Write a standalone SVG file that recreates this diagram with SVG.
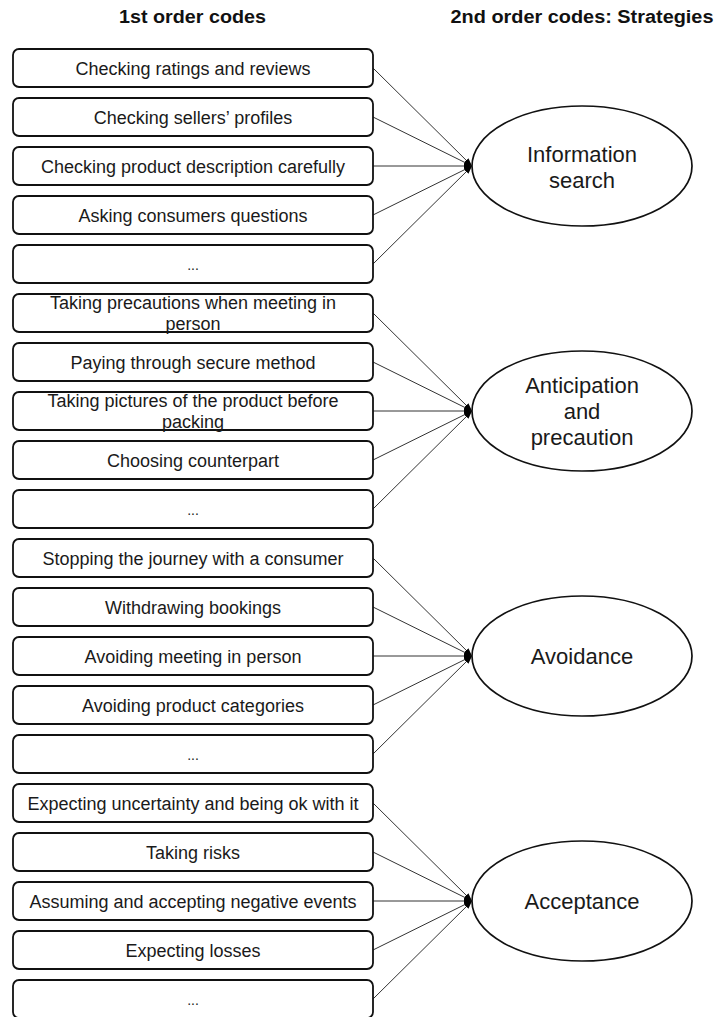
<svg xmlns="http://www.w3.org/2000/svg" width="716" height="1017" viewBox="0 0 716 1017">
<style>
.box{fill:#fff;stroke:#111;stroke-width:1.8}
.ell{fill:#fff;stroke:#111;stroke-width:1.7}
.t{font-family:"Liberation Sans",Arial,sans-serif;font-size:18px;fill:#1a1a1a;text-anchor:middle}
.dots{font-family:"Liberation Sans",Arial,sans-serif;font-size:14px;fill:#1a1a1a;text-anchor:middle}
.et{font-family:"Liberation Sans",Arial,sans-serif;font-size:22px;fill:#1a1a1a;text-anchor:middle}
.h{font-family:"Liberation Sans",Arial,sans-serif;font-size:18px;font-weight:bold;fill:#111;text-anchor:middle}
.c{stroke:#333;stroke-width:1;fill:none;marker-end:url(#ah)}
</style>
<defs>
<marker id="ah" viewBox="0 0 8 6" refX="8" refY="3" markerWidth="8" markerHeight="6" orient="auto" markerUnits="userSpaceOnUse">
<path d="M0,0 L8,3 L0,6 z" fill="#000"/>
</marker>
</defs>
<rect width="716" height="1017" fill="#fff"/>
<g id="headers">
<text class="h" x="192.5" y="23" textLength="147" lengthAdjust="spacingAndGlyphs">1st order codes</text>
<text class="h" x="582" y="23" textLength="263" lengthAdjust="spacingAndGlyphs">2nd order codes: Strategies</text>
</g>
<g id="connectors">
<line class="c" x1="373" y1="68" x2="472" y2="166"/>
<line class="c" x1="373" y1="117" x2="472" y2="166"/>
<line class="c" x1="373" y1="166" x2="472" y2="166"/>
<line class="c" x1="373" y1="215" x2="472" y2="166"/>
<line class="c" x1="373" y1="264" x2="472" y2="166"/>
<line class="c" x1="373" y1="313" x2="472" y2="411"/>
<line class="c" x1="373" y1="362" x2="472" y2="411"/>
<line class="c" x1="373" y1="411" x2="472" y2="411"/>
<line class="c" x1="373" y1="460" x2="472" y2="411"/>
<line class="c" x1="373" y1="509" x2="472" y2="411"/>
<line class="c" x1="373" y1="558" x2="472" y2="656"/>
<line class="c" x1="373" y1="607" x2="472" y2="656"/>
<line class="c" x1="373" y1="656" x2="472" y2="656"/>
<line class="c" x1="373" y1="705" x2="472" y2="656"/>
<line class="c" x1="373" y1="754" x2="472" y2="656"/>
<line class="c" x1="373" y1="803" x2="472" y2="901"/>
<line class="c" x1="373" y1="852" x2="472" y2="901"/>
<line class="c" x1="373" y1="901" x2="472" y2="901"/>
<line class="c" x1="373" y1="950" x2="472" y2="901"/>
<line class="c" x1="373" y1="999" x2="472" y2="901"/>
</g>
<g id="c1"><rect class="box" x="13" y="49" width="360" height="38" rx="6"/><text class="t" x="193" y="75">Checking ratings and reviews</text></g>
<g id="c2"><rect class="box" x="13" y="98" width="360" height="38" rx="6"/><text class="t" x="193" y="124">Checking sellers’ profiles</text></g>
<g id="c3"><rect class="box" x="13" y="147" width="360" height="38" rx="6"/><text class="t" x="193" y="173">Checking product description carefully</text></g>
<g id="c4"><rect class="box" x="13" y="196" width="360" height="38" rx="6"/><text class="t" x="193" y="222">Asking consumers questions</text></g>
<g id="c5"><rect class="box" x="13" y="245" width="360" height="38" rx="6"/><text class="dots" x="193" y="270">...</text></g>
<g id="c6"><rect class="box" x="13" y="294" width="360" height="38" rx="6"/><text class="t" x="193" y="309">Taking precautions when meeting in</text><text class="t" x="193" y="330">person</text></g>
<g id="c7"><rect class="box" x="13" y="343" width="360" height="38" rx="6"/><text class="t" x="193" y="369">Paying through secure method</text></g>
<g id="c8"><rect class="box" x="13" y="392" width="360" height="38" rx="6"/><text class="t" x="193" y="407">Taking pictures of the product before</text><text class="t" x="193" y="428">packing</text></g>
<g id="c9"><rect class="box" x="13" y="441" width="360" height="38" rx="6"/><text class="t" x="193" y="467">Choosing counterpart</text></g>
<g id="c10"><rect class="box" x="13" y="490" width="360" height="38" rx="6"/><text class="dots" x="193" y="515">...</text></g>
<g id="c11"><rect class="box" x="13" y="539" width="360" height="38" rx="6"/><text class="t" x="193" y="565">Stopping the journey with a consumer</text></g>
<g id="c12"><rect class="box" x="13" y="588" width="360" height="38" rx="6"/><text class="t" x="193" y="614">Withdrawing bookings</text></g>
<g id="c13"><rect class="box" x="13" y="637" width="360" height="38" rx="6"/><text class="t" x="193" y="663">Avoiding meeting in person</text></g>
<g id="c14"><rect class="box" x="13" y="686" width="360" height="38" rx="6"/><text class="t" x="193" y="712">Avoiding product categories</text></g>
<g id="c15"><rect class="box" x="13" y="735" width="360" height="38" rx="6"/><text class="dots" x="193" y="760">...</text></g>
<g id="c16"><rect class="box" x="13" y="784" width="360" height="38" rx="6"/><text class="t" x="193" y="810">Expecting uncertainty and being ok with it</text></g>
<g id="c17"><rect class="box" x="13" y="833" width="360" height="38" rx="6"/><text class="t" x="193" y="859">Taking risks</text></g>
<g id="c18"><rect class="box" x="13" y="882" width="360" height="38" rx="6"/><text class="t" x="193" y="908">Assuming and accepting negative events</text></g>
<g id="c19"><rect class="box" x="13" y="931" width="360" height="38" rx="6"/><text class="t" x="193" y="957">Expecting losses</text></g>
<g id="c20"><rect class="box" x="13" y="980" width="360" height="38" rx="6"/><text class="dots" x="193" y="1005">...</text></g>
<g id="s1"><ellipse class="ell" cx="582" cy="166" rx="110" ry="60"/><text class="et" x="582" y="162">Information</text><text class="et" x="582" y="188">search</text></g>
<g id="s2"><ellipse class="ell" cx="582" cy="411" rx="110" ry="60"/><text class="et" x="582" y="393">Anticipation</text><text class="et" x="582" y="419">and</text><text class="et" x="582" y="445">precaution</text></g>
<g id="s3"><ellipse class="ell" cx="582" cy="656" rx="110" ry="60"/><text class="et" x="582" y="664">Avoidance</text></g>
<g id="s4"><ellipse class="ell" cx="582" cy="901" rx="110" ry="60"/><text class="et" x="582" y="909">Acceptance</text></g>
</svg>
